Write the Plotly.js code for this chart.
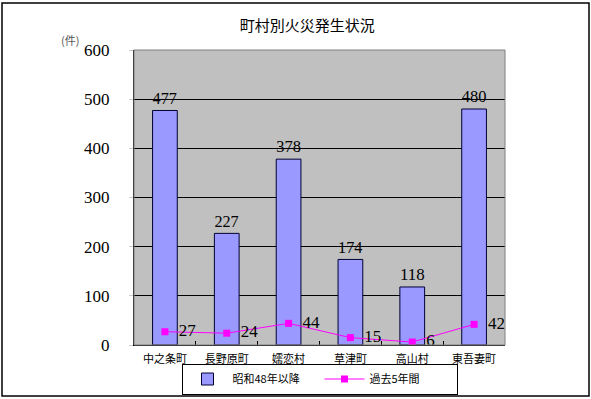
<!DOCTYPE html>
<html><head><meta charset="utf-8">
<script src="https://cdn.plot.ly/plotly-3.0.1.min.js"></script>
<style>body{margin:0;background:#fff}#c{width:591px;height:399px}</style>
</head><body><div id="c"></div>
<script>
const categories = ["中之条町","長野原町","嬬恋村","草津町","高山村","東吾妻町"];
const sinceS48 = [477,227,378,174,118,480];
const past5 = [27,24,44,15,6,42];
const yTicks = [0,100,200,300,400,500,600];

const numFont = {family:"Liberation Serif, DejaVu Serif, serif", size:17, color:"#000"};
const jpFont = "Noto Sans CJK JP, sans-serif";

const traces = [
 {type:"bar", x:categories, y:sinceS48, name:"昭和48年以降",
  marker:{color:"#9999FF", line:{color:"#000033", width:1}},
  text:sinceS48.map(String), textposition:"outside", cliponaxis:false,
  textfont:numFont, hoverinfo:"none"},
 {type:"scatter", mode:"lines+markers+text", x:categories, y:past5, name:"過去5年間",
  line:{color:"#FF00FF", width:1}, marker:{symbol:"square", size:7, color:"#FF00FF"},
  text:past5.map(v => "\u00a0\u00a0" + v), textposition:"middle right", cliponaxis:false,
  textfont:numFont, hoverinfo:"none"}
];

const px = v => (v-134)/371, py = v => (345-v)/295;
const layout = {
 width:591, height:399, margin:{l:134, r:86, t:50, b:54, autoexpand:false},
 paper_bgcolor:"#fff", plot_bgcolor:"#C0C0C0",
 title:{text:"町村別火災発生状況", font:{family:jpFont, size:15, color:"#000"}, x:0.52, xanchor:"center", y:0.935, yanchor:"middle"},
 bargap:0.6, showlegend:true,
 legend:{orientation:"h", x:0.5, xanchor:"center", y:py(379), yanchor:"middle",
   bordercolor:"#000", borderwidth:1, bgcolor:"#fff",
   font:{family:jpFont, size:11, color:"#000"}, itemwidth:40, entrywidth:82, tracegroupgap:0},
 xaxis:{type:"category", showgrid:false, showline:true, linecolor:"#000", linewidth:1,
   ticks:"inside", ticklen:4, tickcolor:"#000", tickson:"boundaries", ticklabelstandoff:4,
   tickfont:{family:jpFont, size:11, color:"#000"}, fixedrange:true, mirror:false},
 yaxis:{range:[0,600], tickvals:yTicks, ticktext:yTicks.map(String), showgrid:true, gridcolor:"#000", gridwidth:1,
   showline:true, linecolor:"#000", linewidth:1, ticks:"outside", ticklen:4, tickcolor:"#ccc",
   tickfont:numFont, zeroline:false, fixedrange:true, ticklabelstandoff:16},
 shapes:[
  {type:"rect", xref:"paper", yref:"paper", x0:0, x1:1, y0:0, y1:1, line:{color:"#808080", width:1}, layer:"above"},
  {type:"rect", xref:"paper", yref:"paper", x0:px(2), x1:px(589), y0:py(396), y1:py(3), line:{color:"#000", width:1.5}}
 ],
 annotations:[
  {text:"(件)", xref:"paper", yref:"paper", x:px(59), y:py(30), showarrow:false,
   font:{family:jpFont, size:11, color:"#555"}}
 ]
};
Plotly.newPlot("c", traces, layout, {staticPlot:true});
</script></body></html>
